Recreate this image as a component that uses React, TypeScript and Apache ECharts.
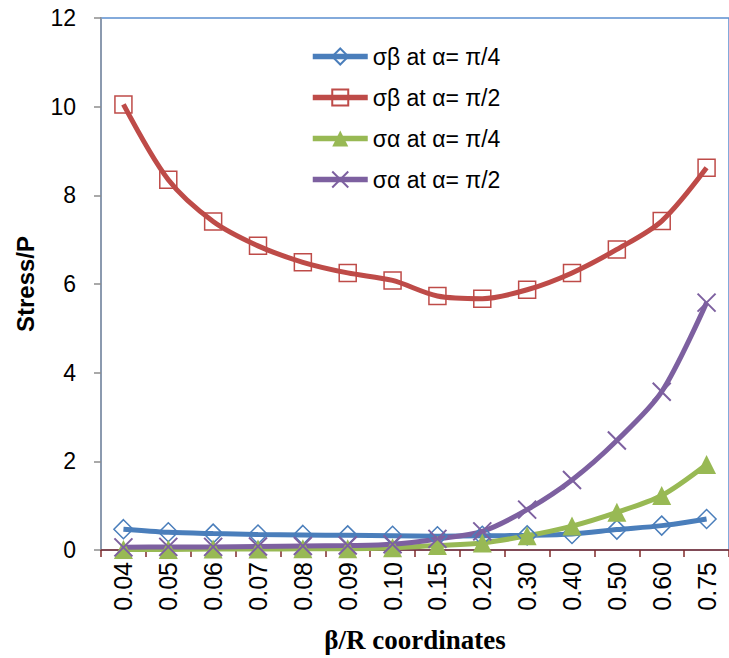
import React, { useEffect, useRef } from "react";
import * as echarts from "echarts";

const categories = ["0.04", "0.05", "0.06", "0.07", "0.08", "0.09", "0.10", "0.15", "0.20", "0.30", "0.40", "0.50", "0.60", "0.75"];
const sigmaBetaPi4 = [0.47, 0.40, 0.37, 0.35, 0.34, 0.33, 0.32, 0.31, 0.32, 0.33, 0.36, 0.46, 0.55, 0.70];
const sigmaBetaPi2 = [10.05, 8.35, 7.41, 6.86, 6.49, 6.25, 6.08, 5.73, 5.67, 5.87, 6.25, 6.78, 7.42, 8.62];
const sigmaAlphaPi4 = [0.01, 0.01, 0.02, 0.02, 0.03, 0.03, 0.05, 0.10, 0.16, 0.32, 0.54, 0.85, 1.23, 1.93];
const sigmaAlphaPi2 = [0.06, 0.07, 0.07, 0.08, 0.09, 0.10, 0.13, 0.25, 0.42, 0.91, 1.58, 2.47, 3.57, 5.58];
const seriesNames = ["σβ at α= π/4", "σβ at α= π/2", "σα at α= π/4", "σα at α= π/2"];
const yTicks = { min: 0, max: 12, interval: 2 };

const BLUE = "#4A7EBB";
const RED = "#BE4B48";
const GREEN = "#98B954";
const PURPLE = "#7D60A0";
const FONT = "Liberation Sans";

export default function App() {
  const ref = useRef<HTMLDivElement>(null);
  useEffect(() => {
    if (!ref.current) return;
    const chart = echarts.init(ref.current, null, { renderer: "svg" });
    const mk = (name: string, data: number[], color: string, symbol: string, size: number, hollow: boolean) => ({
      name,
      type: "line",
      data,
      smooth: 0.3,
      symbol,
      symbolSize: size,
      showAllSymbol: true,
      lineStyle: { color, width: 5 },
      itemStyle: hollow
        ? { color: "rgba(255,255,255,0)", borderColor: color, borderWidth: 1.5 }
        : symbol.startsWith("path")
        ? { color, borderColor: color, borderWidth: 2 }
        : { color, borderColor: color, borderWidth: 0 },
      emphasis: { disabled: true },
    });
    chart.setOption({
      animation: false,
      grid: {
        left: 101,
        top: 18,
        bottom: 107,
        right: -5,
        show: true,
        borderColor: "#5B8FD0",
        borderWidth: 1.5,
      },
      legend: {
        orient: "vertical",
        left: 305,
        top: 40,
        itemWidth: 55,
        itemHeight: 20,
        itemGap: 18,
        data: seriesNames,
        lineStyle: { width: 5.5 },
        textStyle: { fontFamily: FONT, fontSize: 23, color: "#000", lineHeight: 20 },
      },
      xAxis: {
        type: "category",
        data: categories,
        boundaryGap: true,
        name: "β/R coordinates",
        nameLocation: "middle",
        nameGap: 76,
        nameTextStyle: { fontFamily: "Liberation Serif", fontWeight: "bold", fontSize: 27, color: "#000" },
        axisLine: { lineStyle: { color: "#7F2A2A", width: 1.5 } },
        axisTick: { show: true, length: 7, alignWithLabel: false, lineStyle: { color: "#7F2A2A", width: 1.5 } },
        axisLabel: { rotate: 90, margin: 12, fontFamily: FONT, fontSize: 25, color: "#000", interval: 0 },
        splitLine: { show: false },
      },
      yAxis: {
        type: "value",
        min: yTicks.min,
        max: yTicks.max,
        interval: yTicks.interval,
        name: "Stress/P",
        nameLocation: "middle",
        nameGap: 64,
        nameTextStyle: { fontFamily: FONT, fontWeight: "bold", fontSize: 24, color: "#000" },
        axisLine: { show: true, lineStyle: { color: "#8B9AAF", width: 2 } },
        axisTick: { show: true, length: 7, lineStyle: { color: "#8C8C8C", width: 1.5 } },
        axisLabel: { margin: 25, fontFamily: FONT, fontSize: 23, color: "#000" },
        splitLine: { show: false },
      },
      series: [
        mk(seriesNames[0], sigmaBetaPi4, BLUE, "diamond", 19, true),
        mk(seriesNames[1], sigmaBetaPi2, RED, "rect", 17, true),
        mk(seriesNames[2], sigmaAlphaPi4, GREEN, "triangle", 19, false),
        mk(seriesNames[3], sigmaAlphaPi2, PURPLE, "path://M0,0L10,10M0,10L10,0", 18, false),
      ],
    });
    return () => chart.dispose();
  }, []);
  return <div ref={ref} style={{ position: "absolute", left: 0, top: 0, width: 729, height: 658 }} />;
}
